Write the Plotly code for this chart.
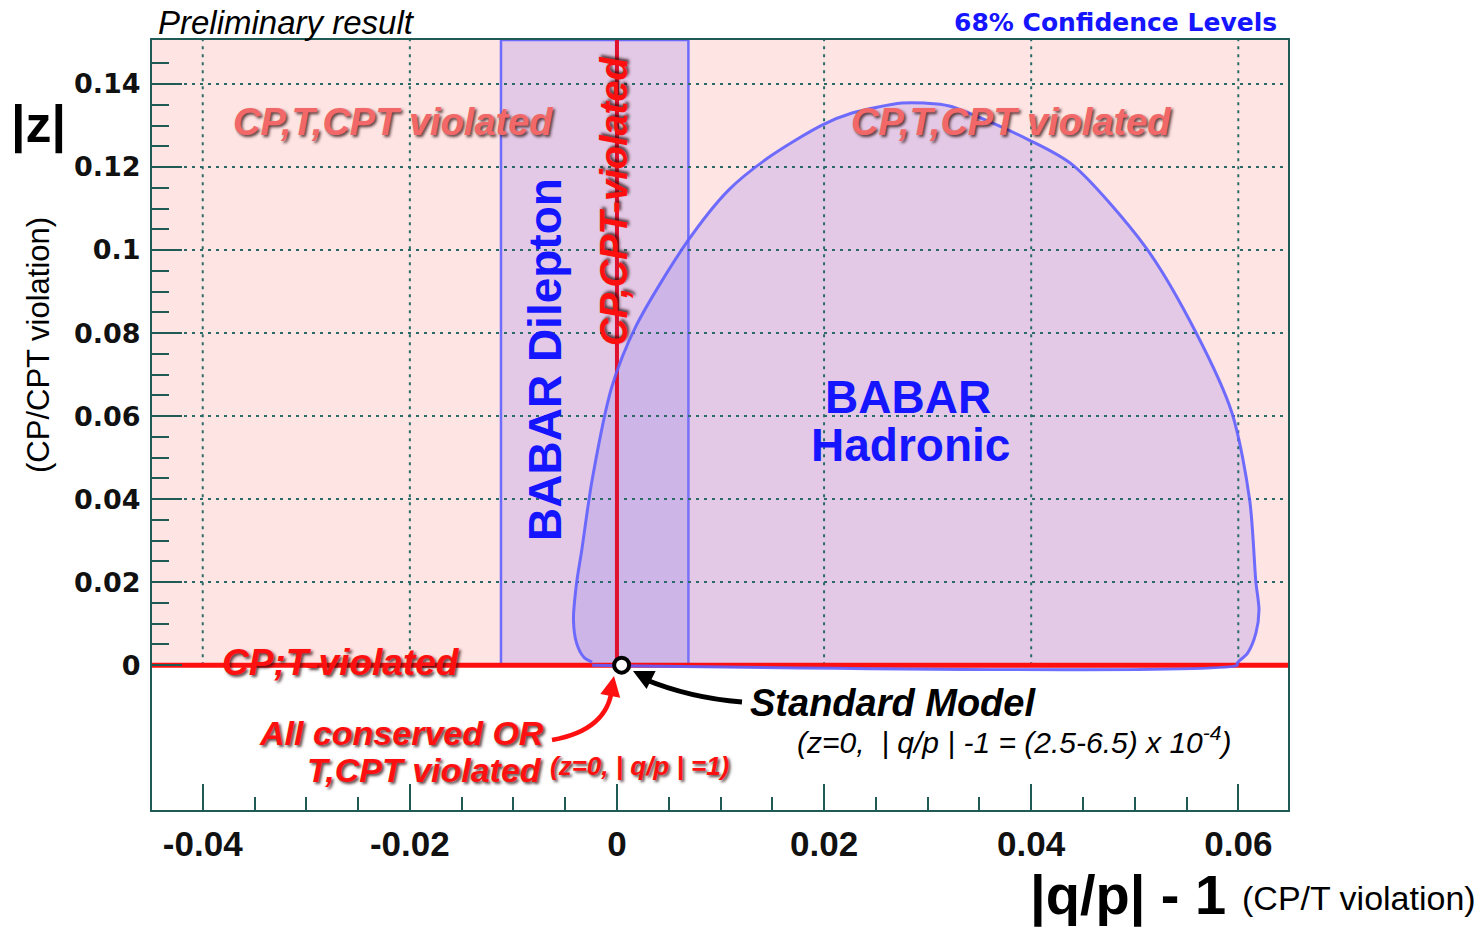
import numpy as np
import plotly.graph_objects as go

# ---- axis extents and ticks -------------------------------------------------
X_RANGE = [-0.0449, 0.0648]
Y_RANGE = [-0.0349, 0.1506]

X_TICKS = [-0.04, -0.02, 0.0, 0.02, 0.04, 0.06]
X_TICK_TEXT = ["-0.04", "-0.02", "0", "0.02", "0.04", "0.06"]
Y_TICKS = [0.0, 0.02, 0.04, 0.06, 0.08, 0.10, 0.12, 0.14]
Y_TICK_TEXT = ["0", "0.02", "0.04", "0.06", "0.08", "0.1", "0.12", "0.14"]

# ---- measurements ----------------------------------------------------------
# BABAR dilepton 68% CL band in |q/p|-1 (no constraint on |z|)
DILEPTON_LO = -0.0112
DILEPTON_HI = 0.0069

# BABAR hadronic 68% CL contour in (|q/p|-1, |z|)
HADRONIC_X = [-0.0024, -0.0032, -0.0039, -0.0042, -0.0039, -0.0034, -0.0024,
              -0.0005, 0.0018, 0.0067, 0.0108, 0.0147, 0.0198, 0.0227, 0.0275,
              0.0297, 0.0321, 0.0398, 0.0440, 0.0511, 0.0559, 0.0594, 0.0611,
              0.0617, 0.0620, 0.0617, 0.0609, 0.0599, 0.0599, -0.0024]
HADRONIC_Y = [0.0007, 0.0019, 0.0053, 0.0108, 0.0198, 0.0277, 0.0446,
              0.0670, 0.0815, 0.1017, 0.1145, 0.1224, 0.1301, 0.1330, 0.1354,
              0.1354, 0.1347, 0.1265, 0.1205, 0.1005, 0.0802, 0.0607, 0.0398,
              0.0200, 0.0133, 0.0077, 0.0029, 0.0005, 0.0, 0.0]

# Standard Model expectation
SM_QP = 0.00045
SM_Z = 0.0

# ---- styling ---------------------------------------------------------------
W, H = 1483, 932
PL, PR, PT, PB = 152, 1288, 40, 810      # plot box in pixels
FRAME = "#1f5a55"
GRID = "#2a6b68"
PINK = "#ffe4e4"
FILL = "rgba(150,130,235,0.27)"
EDGE = "rgba(95,95,255,0.9)"
BLUE_TXT = "#1515ff"
RED = "#ff1010"
SANS = "Liberation Sans"
WIDE = "DejaVu Sans"
SHADOW_DARK = "2px 2px 3px rgba(40,10,10,0.75)"


def paper(xp, yp):
    """pixel position -> paper coordinates"""
    return (xp - PL) / (PR - PL), (PB - yp) / (PB - PT)


fig = go.Figure()

# dilepton band
fig.add_trace(go.Scatter(
    x=[DILEPTON_LO, DILEPTON_LO, DILEPTON_HI, DILEPTON_HI, DILEPTON_LO],
    y=[0, Y_RANGE[1], Y_RANGE[1], 0, 0],
    mode="lines", fill="toself", fillcolor=FILL,
    line=dict(color=EDGE, width=2.5), hoverinfo="skip", showlegend=False))

# hadronic contour fill
fig.add_trace(go.Scatter(
    x=HADRONIC_X, y=HADRONIC_Y, mode="lines", fill="toself", fillcolor=FILL,
    line=dict(width=0, color=FILL, shape="spline", smoothing=0.8),
    hoverinfo="skip", showlegend=False))

# dotted grid, only in the physical region |z| >= 0
gx, gy = [], []
for xv in X_TICKS:
    gx += [xv, xv, None]
    gy += [0, Y_RANGE[1], None]
for yv in Y_TICKS[1:]:
    gx += [X_RANGE[0], X_RANGE[1], None]
    gy += [yv, yv, None]
fig.add_trace(go.Scatter(
    x=gx, y=gy, mode="lines", line=dict(color=GRID, width=2, dash="3px,5px"),
    hoverinfo="skip", showlegend=False))

# CP,T violated (z = 0) and CP,CPT violated (|q/p| = 1) lines
fig.add_trace(go.Scatter(
    x=[X_RANGE[0], X_RANGE[1]], y=[0, 0], mode="lines",
    line=dict(color=RED, width=5), hoverinfo="skip", showlegend=False))
fig.add_trace(go.Scatter(
    x=[0, 0], y=[0, Y_RANGE[1]], mode="lines",
    line=dict(color="#e0102f", width=4), hoverinfo="skip", showlegend=False))

# hadronic contour outline
fig.add_trace(go.Scatter(
    x=HADRONIC_X, y=HADRONIC_Y, mode="lines",
    line=dict(color=EDGE, width=3, shape="spline", smoothing=0.8),
    hoverinfo="skip", showlegend=False))

# Standard Model point
fig.add_trace(go.Scatter(
    x=[SM_QP], y=[SM_Z], mode="markers", cliponaxis=False,
    marker=dict(symbol="circle", size=15, color="white",
                line=dict(color="black", width=4)),
    hoverinfo="skip", showlegend=False))

# ---- text ------------------------------------------------------------------
annotations = []


def note(text, xp, yp, size, color="black", family=SANS, bold=False,
         italic=False, xanchor="center", angle=0, shadow="none"):
    px_, py_ = paper(xp, yp)
    annotations.append(dict(
        text=text, x=px_, y=py_, xref="paper", yref="paper",
        xanchor=xanchor, yanchor="middle", showarrow=False, textangle=angle,
        font=dict(size=size, color=color, family=family,
                  weight="bold" if bold else "normal",
                  style="italic" if italic else "normal", shadow=shadow)))


note("Preliminary result", 156, 22, 33, italic=True, xanchor="left")
note("68% Confidence Levels", 1279, 23, 25, color=BLUE_TXT, family=WIDE,
     bold=True, xanchor="right")
note("|z|", 38, 124, 52, bold=True)
note("(CP/CPT violation)", 38, 345, 31, angle=-90)
note("|q/p| - 1", 1128, 895, 56, bold=True)
note("(CP/T violation)", 1240, 898, 34, xanchor="left")

note("CP,T,CPT violated", 393, 122, 38, color="#f26868", bold=True,
     italic=True, shadow=SHADOW_DARK)
note("CP,T,CPT violated", 1011, 122, 38, color="#f26868", bold=True,
     italic=True, shadow=SHADOW_DARK)
note("BABAR Dilepton", 545, 360, 46, color=BLUE_TXT, bold=True, angle=-90)
note("CP,CPT-violated", 614, 202, 38, color=RED, bold=True, italic=True,
     angle=-90, shadow=SHADOW_DARK)
note("BABAR", 908, 397, 46, color=BLUE_TXT, bold=True)
note("Hadronic", 910, 445, 46, color=BLUE_TXT, bold=True)

note("CP;T-violated", 341, 662, 37, color=RED, bold=True, italic=True,
     shadow=SHADOW_DARK)
note("All conserved OR", 546, 733, 34, color=RED, bold=True, italic=True,
     xanchor="right", shadow=SHADOW_DARK)
note("T,CPT violated", 544, 770, 34, color=RED, bold=True, italic=True,
     xanchor="right", shadow=SHADOW_DARK)
note("(z=0, | q/p | =1)", 548, 766, 26, color=RED, bold=True, italic=True,
     xanchor="left", shadow=SHADOW_DARK)

note("Standard Model", 748, 703, 38, bold=True, italic=True, xanchor="left")
note("(z=0,  | q/p | -1 = (2.5-6.5) x 10<sup>-4</sup>)", 795, 740, 30,
     italic=True, xanchor="left")

# arrowheads for the curved pointers
for tip, off, col in [((633, 671), (16, 8), "black"),
                      ((614, 676), (-3, 16), RED)]:
    tx, ty = paper(*tip)
    annotations.append(dict(
        text="", x=tx, y=ty, xref="paper", yref="paper", ax=off[0], ay=off[1],
        showarrow=True, arrowhead=2, arrowsize=0.9, arrowwidth=4.5,
        arrowcolor=col))


def curve(p0, c, p1):
    a, b, d = paper(*p0), paper(*c), paper(*p1)
    return f"M {a[0]},{a[1]} Q {b[0]},{b[1]} {d[0]},{d[1]}"


shapes = [
    # physical region |z| >= 0
    dict(type="rect", xref="paper", yref="y", x0=0, x1=1, y0=0,
         y1=Y_RANGE[1], fillcolor=PINK, line=dict(width=0), layer="below"),
    dict(type="path", xref="paper", yref="paper",
         path=curve((742, 702), (690, 698), (644, 679)),
         line=dict(color="black", width=5), layer="above"),
    dict(type="path", xref="paper", yref="paper",
         path=curve((552, 740), (608, 730), (612, 688)),
         line=dict(color=RED, width=4.5), layer="above"),
]

axis_common = dict(showline=True, mirror=True, linecolor=FRAME, linewidth=2,
                   showgrid=False, zeroline=False, ticks="inside",
                   tickcolor=FRAME, tickwidth=2, tickmode="array")

fig.update_layout(
    width=W, height=H,
    margin=dict(l=PL, r=W - PR, t=PT, b=H - PB),
    paper_bgcolor="white", plot_bgcolor="white",
    showlegend=False,
    xaxis=dict(range=X_RANGE, tickvals=X_TICKS, ticktext=X_TICK_TEXT,
               ticklen=26, ticklabelstandoff=2,
               tickfont=dict(family=SANS, size=35, color="#111",
                             weight="bold"),
               minor=dict(dtick=0.005, tick0=0, ticks="inside", ticklen=13,
                          tickcolor=FRAME, tickwidth=2, showgrid=False),
               **axis_common),
    yaxis=dict(range=Y_RANGE, tickvals=Y_TICKS, ticktext=Y_TICK_TEXT,
               ticklen=30, ticklabelstandoff=4,
               tickfont=dict(family=WIDE, size=27, color="#111",
                             weight="bold"),
               minor=dict(tickmode="array",
                          tickvals=[v for v in np.round(np.arange(0.005, 0.15, 0.005), 3)
                                    if round(v / 0.02, 6) % 1 != 0],
                          ticks="inside", ticklen=17, tickcolor=FRAME,
                          tickwidth=2, showgrid=False),
               **axis_common),
    annotations=annotations,
    shapes=shapes,
)

fig.write_html("out.html")
